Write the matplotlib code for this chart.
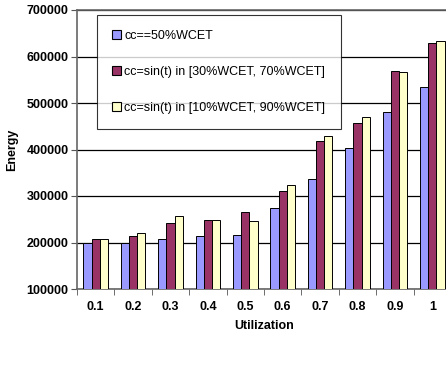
import numpy as np
import matplotlib.pyplot as plt
from matplotlib.patches import Patch

plt.rcParams['font.family'] = ['Liberation Sans', 'DejaVu Sans']

util = ['0.1', '0.2', '0.3', '0.4', '0.5', '0.6', '0.7', '0.8', '0.9', '1']
cc50 = [200000, 200000, 207000, 214000, 216000, 274000, 337000, 404000, 480000, 535000]
sin30_70 = [207000, 215000, 242000, 248000, 265000, 310000, 418000, 457000, 568000, 629000]
sin10_90 = [208000, 220000, 257000, 248000, 246000, 323000, 428000, 469000, 567000, 634000]
labels = ['cc==50%WCET', 'cc=sin(t) in [30%WCET, 70%WCET]', 'cc=sin(t) in [10%WCET, 90%WCET]']
colors = ['#9999FF', '#993366', '#FFFFCC']

W, H = 446, 365
fig = plt.figure(figsize=(W / 100, H / 100), dpi=100)
ax = fig.add_axes([77 / W, (H - 289) / H, (451 - 77) / W, (289 - 10) / H])

x = np.arange(len(util))
bw = 0.22
for i, (vals, c) in enumerate(zip([cc50, sin30_70, sin10_90], colors)):
    ax.bar(x + (i - 1) * bw, np.array(vals) - 100000, bw, bottom=100000,
           color=c, edgecolor='black', lw=0.7, zorder=3)

ax.set_xlim(-0.5, len(util) - 0.5)
ax.set_ylim(100000, 700000)
ax.set_yticks(np.arange(100000, 700001, 100000))
ax.set_xticks(x)
ax.set_xticklabels(util, fontweight='bold', fontsize=9)
ax.tick_params(axis='x', length=0, pad=9)
ax.set_xticks(np.arange(-0.5, len(util), 1), minor=True)
ax.tick_params(axis='x', which='minor', length=4, direction='out', color='#555555')
for t in ax.get_yticklabels():
    t.set_fontweight('bold')
    t.set_fontsize(9)
ax.tick_params(axis='y', length=4, direction='out', color='#555555', pad=2)
ax.grid(axis='y', color='black', lw=0.9, zorder=0)

for s in ['left', 'bottom', 'top']:
    ax.spines[s].set_color('#666666')
    ax.spines[s].set_linewidth(1.2)
ax.spines['right'].set_visible(False)

ax.set_xlabel('Utilization', fontweight='bold', fontsize=9, labelpad=5)
fig.text(12 / W, 1 - 150 / H, 'Energy', rotation=90, ha='center', va='center',
         fontweight='bold', fontsize=9)

handles = [Patch(facecolor=c, edgecolor='black', lw=0.8) for c in colors]
leg = fig.legend(handles, labels, loc='upper left', bbox_to_anchor=(97 / W, 1 - 15 / H),
                 fontsize=9, frameon=True, fancybox=False, borderpad=1.2,
                 labelspacing=1.9, handlelength=0.7, handleheight=0.7,
                 handletextpad=0.3, borderaxespad=0)
leg.get_frame().set_edgecolor('black')
leg.get_frame().set_linewidth(0.8)

fig.savefig('out.png', dpi=100)
